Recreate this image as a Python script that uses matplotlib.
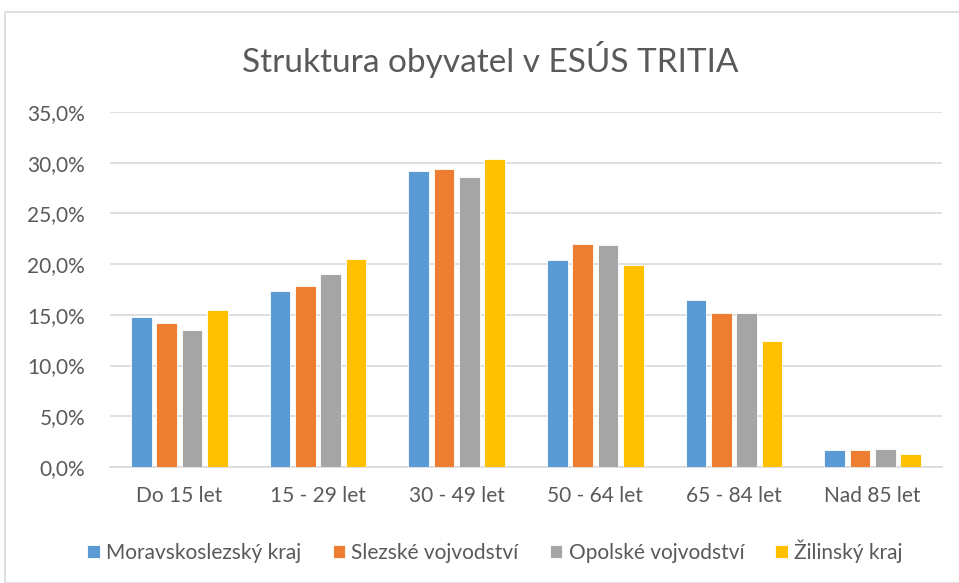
import matplotlib.pyplot as plt
import numpy as np
from matplotlib.patches import Rectangle
from matplotlib.ticker import FuncFormatter

plt.rcParams['font.family'] = ['Lato', 'DejaVu Sans']

kategorie = ["Do 15 let", "15 - 29 let", "30 - 49 let", "50 - 64 let", "65 - 84 let", "Nad 85 let"]
serie = ["Moravskoslezský kraj", "Slezské vojvodství", "Opolské vojvodství", "Žilinský kraj"]
moravskoslezsky = [14.8, 17.4, 29.2, 20.4, 16.5, 1.7]
slezske = [14.2, 17.8, 29.4, 22.0, 15.2, 1.7]
opolske = [13.5, 19.0, 28.6, 21.9, 15.2, 1.8]
zilinsky = [15.5, 20.5, 30.4, 19.9, 12.4, 1.3]
barvy = ["#5B9BD5", "#ED7D31", "#A5A5A5", "#FFC000"]

fig = plt.figure(figsize=(9.59, 5.83), dpi=100)
fig.patches.append(Rectangle((5/959, 0), 1, 1 - 12/583, transform=fig.transFigure,
                             fill=False, edgecolor="#d9d9d9", linewidth=1.2))
ax = fig.add_axes([110/959, 1 - 467/583, 832/959, 355/583])

x = np.arange(len(kategorie))
krok = 0.183
sirka = 0.15
for i, (data, nazev) in enumerate(zip([moravskoslezsky, slezske, opolske, zilinsky], serie)):
    ax.bar(x + (i - 1.5) * krok, data, sirka, color=barvy[i], label=nazev,
           edgecolor="white", linewidth=0.6, zorder=3)

ax.set_xlim(-0.5, 5.5)
ax.set_ylim(0, 35)
ax.set_yticks(np.arange(0, 36, 5))
ax.yaxis.set_major_formatter(FuncFormatter(lambda v, p: f"{v:.1f}%".replace(".", ",")))
ax.set_xticks(x)
ax.set_xticklabels(kategorie)
ax.grid(axis="y", color="#d9d9d9", linewidth=1.2, zorder=0)
for s in ["top", "right", "left"]:
    ax.spines[s].set_visible(False)
ax.spines["bottom"].set_color("#d9d9d9")
ax.spines["bottom"].set_linewidth(1.2)
ax.tick_params(length=0, labelsize=15, colors="#595959", pad=14)
ax.tick_params(axis="y", pad=18)

fig.text(490/959, 1 - 60/583, "Struktura obyvatel v ESÚS TRITIA", ha="center", va="center",
         fontsize=24, color="#595959")

fig.legend(loc="center", bbox_to_anchor=(495/959, 1 - 551/583), ncol=4, frameon=False,
           fontsize=15, handlelength=0.6, handleheight=0.6, handletextpad=0.3,
           columnspacing=1.5, labelcolor="#595959")

fig.savefig("out.png", dpi=100)
